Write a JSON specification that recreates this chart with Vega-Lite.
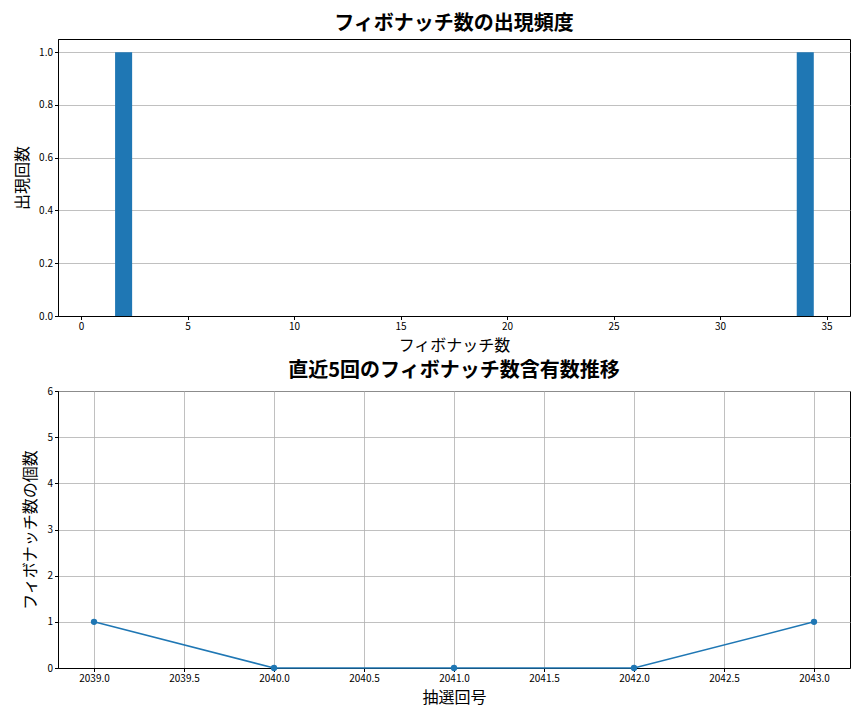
{
  "$schema": "https://vega.github.io/schema/vega-lite/v6.json",
  "background": "white",
  "padding": {"left": 14, "top": 13, "right": 10, "bottom": 5},
  "config": {
    "font": "Noto Sans CJK JP",
    "view": {"stroke": "black", "strokeWidth": 1},
    "axis": {
      "labelFont": "Noto Sans CJK JP",
      "labelFontSize": 10,
      "labelColor": "black",
      "titleFont": "Noto Sans CJK JP",
      "titleFontSize": 16,
      "titleFontWeight": "normal",
      "titleColor": "black",
      "domainColor": "black",
      "tickColor": "black",
      "tickSize": 3.5,
      "gridColor": "#b0b0b0",
      "gridWidth": 0.8,
      "labelFlush": false,
      "labelOverlap": false
    },
    "title": {"font": "Noto Sans CJK JP", "fontSize": 20, "fontWeight": "bold", "color": "black", "offset": 5}
  },
  "spacing": 6,
  "vconcat": [
    {
      "title": "フィボナッチ数の出現頻度",
      "width": 792,
      "height": 277,
      "data": {
        "values": [
          {"fib": 2, "start": 1.6, "end": 2.4, "count": 1},
          {"fib": 34, "start": 33.6, "end": 34.4, "count": 1}
        ]
      },
      "mark": {"type": "bar", "color": "#1f77b4"},
      "encoding": {
        "x": {
          "field": "start",
          "type": "quantitative",
          "title": "フィボナッチ数",
          "scale": {"domain": [-1.08, 36.1], "nice": false, "zero": false},
          "axis": {"values": [0, 5, 10, 15, 20, 25, 30, 35], "grid": false, "titlePadding": 6}
        },
        "x2": {"field": "end"},
        "y": {
          "field": "count",
          "type": "quantitative",
          "title": "出現回数",
          "scale": {"domain": [0, 1.05], "nice": false},
          "axis": {"values": [0, 0.2, 0.4, 0.6, 0.8, 1.0], "format": ".1f", "grid": true, "titlePadding": 8}
        },
        "y2": {"datum": 0}
      }
    },
    {
      "title": "直近5回のフィボナッチ数含有数推移",
      "width": 792,
      "height": 277,
      "data": {
        "values": [
          {"draw": 2039, "n": 1},
          {"draw": 2040, "n": 0},
          {"draw": 2041, "n": 0},
          {"draw": 2042, "n": 0},
          {"draw": 2043, "n": 1}
        ]
      },
      "mark": {"type": "line", "color": "#1f77b4", "strokeWidth": 1.5, "point": {"filled": true, "size": 40, "color": "#1f77b4"}},
      "encoding": {
        "x": {
          "field": "draw",
          "type": "quantitative",
          "title": "抽選回号",
          "scale": {"domain": [2038.8, 2043.2], "nice": false, "zero": false},
          "axis": {"values": [2039, 2039.5, 2040, 2040.5, 2041, 2041.5, 2042, 2042.5, 2043], "format": ".1f", "grid": true, "titlePadding": 6}
        },
        "y": {
          "field": "n",
          "type": "quantitative",
          "title": "フィボナッチ数の個数",
          "scale": {"domain": [0, 6], "nice": false},
          "axis": {"values": [0, 1, 2, 3, 4, 5, 6], "format": "d", "grid": true, "titlePadding": 8}
        }
      }
    }
  ]
}
